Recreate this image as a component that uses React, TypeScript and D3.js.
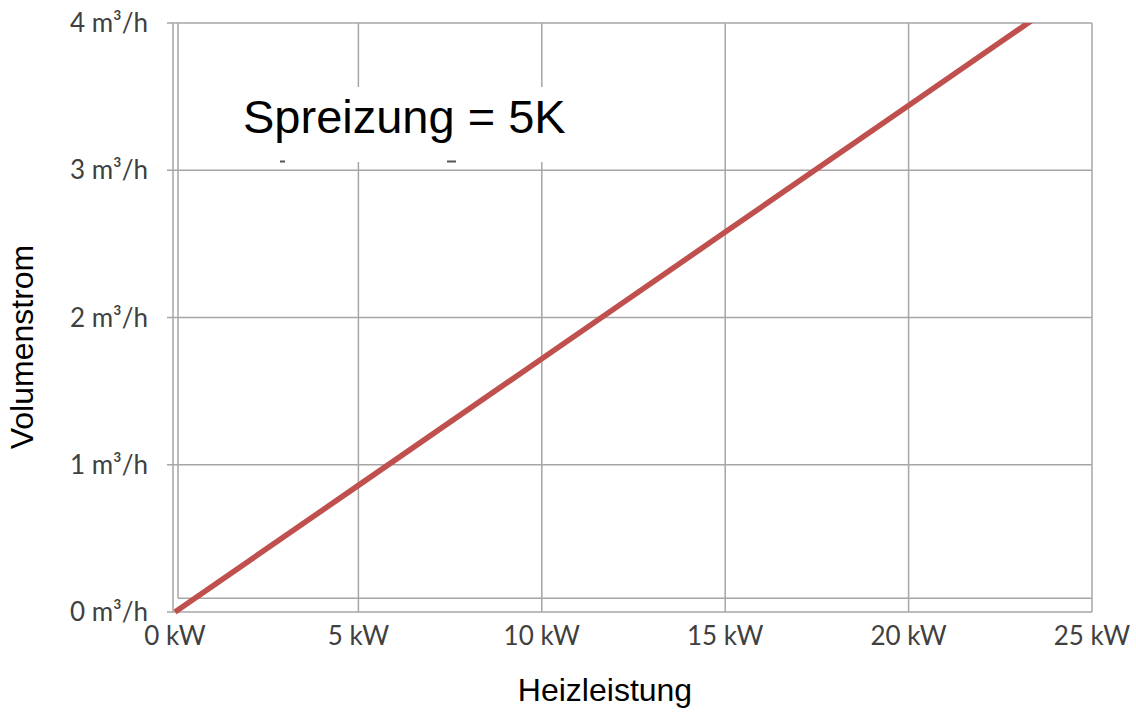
import React from "react";
import * as d3 from "d3";

const powerKW = [0, 5, 10, 15, 20, 25];
const flowM3h = [0, 0.86, 1.72, 2.58, 3.44, 4.3];
const xTicks = [0, 5, 10, 15, 20, 25];
const yTicks = [0, 1, 2, 3, 4];
const xTickLabel = (v: number) => `${v} kW`;
const yTickLabel = (v: number) => `${v} m³/h`;
const annotation = "Spreizung = 5K";
const xTitle = "Heizleistung";
const yTitle = "Volumenstrom";
const innerFrameY = 0.093;

export default function App() {
  const W = 1136;
  const H = 712;
  const left = 175;
  const right = 1092;
  const top = 23;
  const bottom = 612;
  const x = d3.scaleLinear().domain([0, 25]).range([left, right]);
  const y = d3.scaleLinear().domain([0, 4]).range([bottom, top]);
  const pts = powerKW.map((p, i) => [p, flowM3h[i]] as [number, number]);
  const line = d3
    .line<[number, number]>()
    .x((d) => x(d[0]))
    .y((d) => y(d[1]));
  const grid = "#a6a6a6";
  const labelFont = "Lato, 'Open Sans', sans-serif";
  const titleFont = "'Liberation Sans', Arial, sans-serif";
  return (
    <svg
      width={W}
      height={H}
      style={{ position: "absolute", left: 0, top: 0, background: "#fff" }}
    >
      <defs>
        <clipPath id="plot">
          <rect x={left - 3} y={top} width={right - left + 3} height={bottom - top + 3} />
        </clipPath>
      </defs>
      {/* vertical gridlines */}
      {xTicks.slice(1).map((t) => (
        <line key={"vx" + t} x1={x(t)} x2={x(t)} y1={top} y2={bottom} stroke={grid} strokeWidth={1.5} />
      ))}
      {/* horizontal gridlines */}
      {yTicks.map((t) => (
        <line key={"hy" + t} x1={left - 8} x2={right} y1={y(t)} y2={y(t)} stroke={grid} strokeWidth={1.5} />
      ))}
      <line x1={left + 3} x2={right} y1={y(innerFrameY)} y2={y(innerFrameY)} stroke={grid} strokeWidth={1.5} />
      {/* left double line */}
      <line x1={left - 2} x2={left - 2} y1={top} y2={bottom} stroke={grid} strokeWidth={1.5} />
      <line x1={left + 3} x2={left + 3} y1={top} y2={y(innerFrameY)} stroke={grid} strokeWidth={1.5} />
      {/* white text box */}
      <rect x={236} y={87} width={345} height={75} fill="#fff" />
      <rect x={280} y={160.5} width={5} height={2} fill="#555" />
      <rect x={447} y={160.5} width={9} height={2} fill="#555" />
      <text x={243} y={133} fontFamily={titleFont} fontSize={47} fill="#000">
        {annotation}
      </text>
      {/* data line */}
      <path
        d={line(pts) || ""}
        fill="none"
        stroke="#c0504d"
        strokeWidth={5.5}
        clipPath="url(#plot)"
      />
      {/* tick labels */}
      {yTicks.map((t) => (
        <text
          key={"ly" + t}
          x={148}
          y={y(t) + 9}
          textAnchor="end"
          fontFamily={labelFont}
          fontSize={26}
          fill="#404040"
        >
          {yTickLabel(t)}
        </text>
      ))}
      {xTicks.map((t) => (
        <text
          key={"lx" + t}
          x={x(t)}
          y={645}
          textAnchor="middle"
          fontFamily={labelFont}
          fontSize={26}
          fill="#404040"
        >
          {xTickLabel(t)}
        </text>
      ))}
      <text x={605} y={701} textAnchor="middle" fontFamily={titleFont} fontSize={32} fill="#000">
        {xTitle}
      </text>
      <text
        transform={`translate(33,347) rotate(-90)`}
        textAnchor="middle"
        fontFamily={titleFont}
        fontSize={32}
        fill="#000"
      >
        {yTitle}
      </text>
    </svg>
  );
}
